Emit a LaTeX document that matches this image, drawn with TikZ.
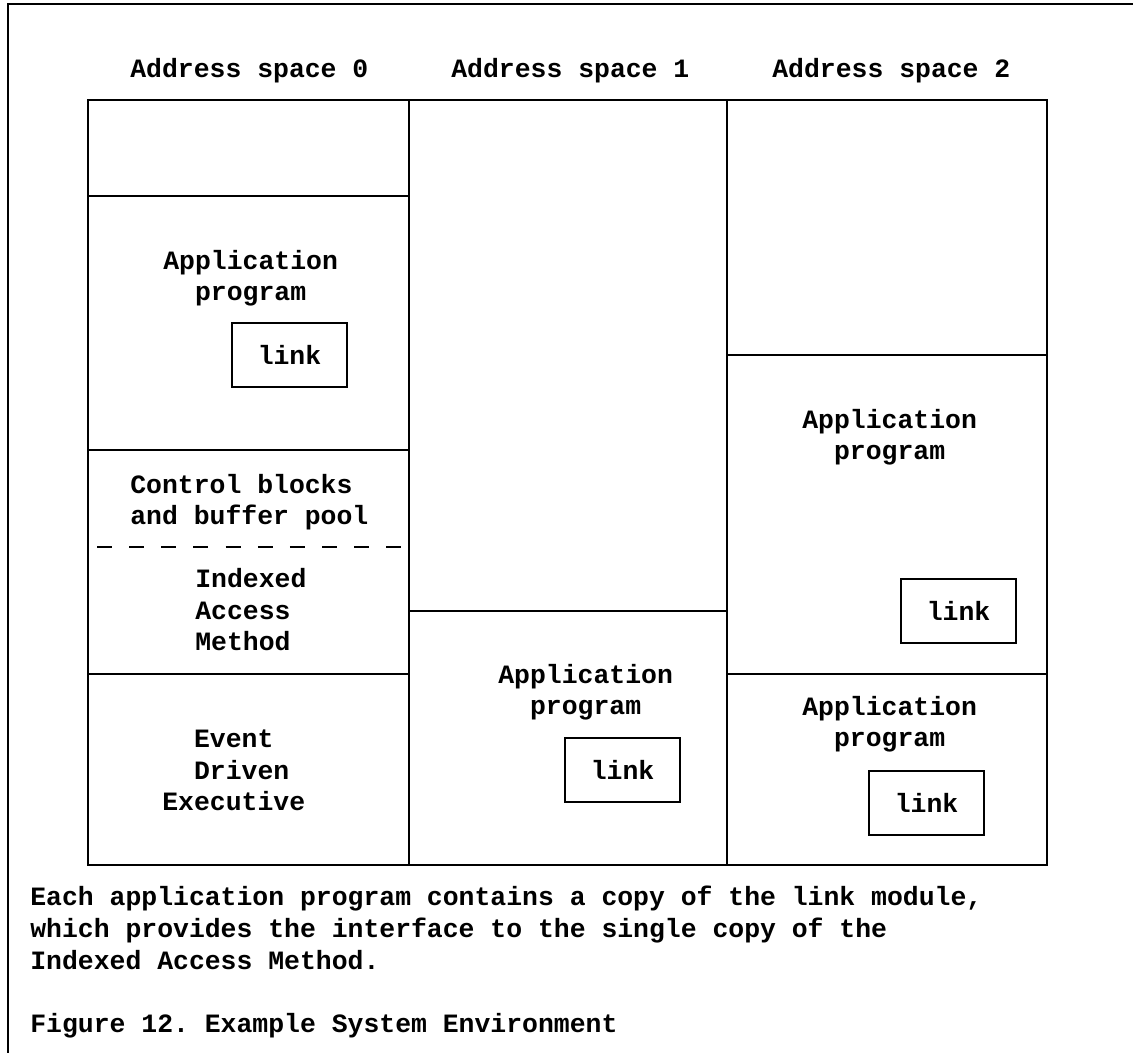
\documentclass[tikz,border=0pt]{standalone}
\usepackage{fontspec}
\usepackage{tikz}
\usetikzlibrary{positioning}
\newfontfamily\ibmfont{Liberation Mono}
\frenchspacing

\begin{document}
\begin{tikzpicture}[
    x=0.02cm, y=-0.02cm,
    txt/.style={anchor=base west, align=left, inner sep=0pt, font=\ibmfont\bfseries\fontsize{15.05}{18.1}\selectfont},
    linkbox/.style={draw, line width=1.6pt, inner sep=0pt, minimum width=2.3cm, minimum height=1.28cm, font=\ibmfont\bfseries\fontsize{15.05}{18.1}\selectfont},
    wall/.style={line width=1.6pt},
    split/.style={line width=1.6pt, dash pattern=on 8.5pt off 9.8pt}
]
    \useasboundingbox (0,0) rectangle (1133,1053);

    % Page frame
    \draw[wall] (8,1053) -- (8,4) -- (1133,4);

    % Headings
    \node[txt] (head0) at (130,78) {Address space 0};
    \node[txt] (head1) at (451,78) {Address space 1};
    \node[txt] (head2) at (772,78) {Address space 2};

    % Outer box and column dividers
    \draw[wall] (88,100) rectangle (1047,865);
    \draw[wall] (409,100) -- (409,865);
    \draw[wall] (727,100) -- (727,865);

    % Address space 0 (text nodes sit on their last baseline)
    \draw[wall] (88,196) -- (409,196);
    \draw[wall] (88,450) -- (409,450);
    \draw[wall] (88,674) -- (409,674);
    \draw[split] (97,547) -- (402,547);
    \node[txt] (app0) at (163,301) {Application\\\hphantom{Ap}program};
    \node[linkbox] (link0) at (289.5,355) {link};
    \node[txt] (ctrl) at (130,525) {Control blocks\\and buffer pool};
    \node[txt] (iam) at (195,651) {Indexed\\Access\\Method};
    \node[txt] (ede) at (162,811) {\hphantom{Ex}Event\\\hphantom{Ex}Driven\\Executive};

    % Address space 1
    \draw[wall] (409,611) -- (727,611);
    \node[txt] (app1) at (498,715) {Application\\\hphantom{Ap}program};
    \node[linkbox] (link1) at (622.5,770) {link};

    % Address space 2
    \draw[wall] (727,355) -- (1047,355);
    \draw[wall] (727,674) -- (1047,674);
    \node[txt] (app2) at (802,460) {Application\\\hphantom{Ap}program};
    \node[linkbox] (link2) at (958.5,611) {link};
    \node[txt] (app3) at (802,747) {Application\\\hphantom{Ap}program};
    \node[linkbox] (link3) at (926.5,803) {link};

    % Caption
    \node[txt] (note) at (30,969) {Each application program contains a copy of the link module,\\which provides the interface to the single copy of the\\Indexed Access Method.};
    \node[txt] (fig) at (30,1032) {Figure 12. Example System Environment};

\end{tikzpicture}
\end{document}
